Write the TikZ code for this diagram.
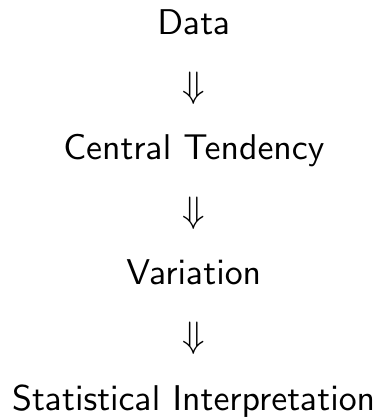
\documentclass[tikz,border=0pt]{standalone}
\usepackage{tikz}
\usetikzlibrary{positioning}

\font\stagefont=cmss10 at 36pt
\font\arrowfont=cmsy10 at 37pt

\begin{document}
\begin{tikzpicture}[
    node distance=26.5pt,
    stage/.style={inner sep=0pt, text height=27pt, text depth=9pt, align=center, font=\stagefont},
    flow/.style={stage, font=\arrowfont}
]

% Nodes
\node[stage] (data) {Data};
\node[flow, below=of data] (a1) {\char"2B};
\node[stage, below=of a1] (central) {Central Tendency};
\node[flow, below=of central] (a2) {\char"2B};
\node[stage, below=of a2] (variation) {Variation};
\node[flow, below=of variation] (a3) {\char"2B};
\node[stage, below=of a3] (interp) {Statistical Interpretation};

\useasboundingbox (data.base) ++(-195pt,35pt) rectangle ++(390pt,-419pt);

\end{tikzpicture}
\end{document}
